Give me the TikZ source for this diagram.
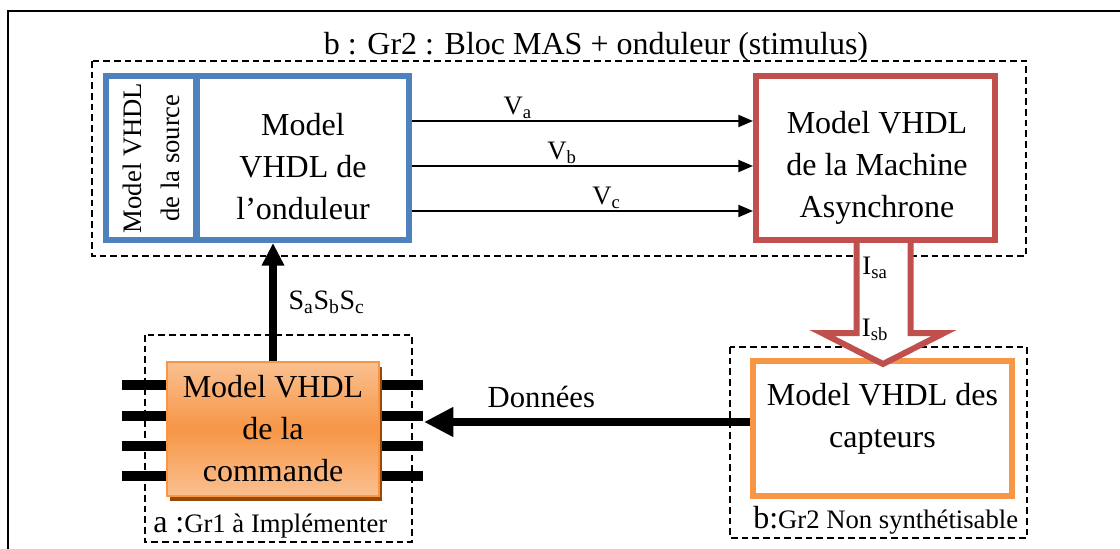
\documentclass[tikz,border=0pt]{standalone}
\usepackage{fontspec}
\setmainfont{Liberation Serif}
\usetikzlibrary{arrows.meta,shadows}

\definecolor{bleu}{RGB}{79,129,189}
\definecolor{rouge}{RGB}{192,80,77}
\definecolor{orangeB}{RGB}{247,150,70}
\definecolor{orangeclair}{RGB}{250,192,144}
\definecolor{brun}{RGB}{152,72,7}

\def\px{0.75pt}

\tikzset{
  grp/.style={draw, line width=1.2pt, dash pattern=on 5pt off 3pt},
  bloc/.style={draw, line width=4.5pt, inner sep=0pt, align=center,
    font=\fontsize{24}{31.5}\selectfont},
  bloctxt/.style={align=center, font=\fontsize{24}{31.5}\selectfont},
  fil/.style={-{Triangle[length=11pt,width=9pt]}, line width=1.5pt},
  gros/.style={-{Triangle[length=17pt,width=16pt]}, line width=5.5pt},
  pinline/.style={line width=7.5pt},
  lab/.style={font=\fontsize{20}{22}\selectfont, inner sep=1pt}
}

\begin{document}
\begin{tikzpicture}[x=0.75pt,y=-0.75pt]
\useasboundingbox (0,0) rectangle (1120,549);

% cadre
\draw[line width=1.5pt] (8,549) -- (8,11) -- (1120,11);

% groupes en pointilles
\draw[grp] (92,61) rectangle (1026,256);
\draw[grp] (145,335) rectangle (412,542);
\draw[grp] (730,347) rectangle (1027,538);

\node[font=\fontsize{24}{28}\selectfont, anchor=base] (titre) at (596,55)
  {b : Gr2 : Bloc MAS + onduleur (stimulus)};

% bloc source + onduleur
\node[bloc, draw=bleu, rotate=90, minimum width=164*\px, minimum height=90*\px,
  font=\fontsize{20}{28.5}\selectfont] (src) at (151,158) {Model VHDL\\de la source};
\node[bloc, draw=bleu, minimum width=212*\px, minimum height=164*\px] (ond) at (303,158) {};
\node[bloctxt] (ondtxt) at (303,167) {Model\\VHDL de\\l’onduleur};

% machine asynchrone
\node[bloc, draw=rouge, minimum width=239*\px, minimum height=164*\px] (mas) at (875.5,158) {};
\node[bloctxt] (mastxt) at (877,168) {Model VHDL\\de la Machine\\Asynchrone};

\draw[fil] (ond.east |- 0,121) -- node[pos=0.31, above, lab] {V\textsubscript{a}} (mas.west |- 0,121);
\draw[fil] (ond.east |- 0,166) -- node[pos=0.44, above, lab] {V\textsubscript{b}} (mas.west |- 0,166);
\draw[fil] (ond.east |- 0,211) -- node[pos=0.57, above, lab] {V\textsubscript{c}} (mas.west |- 0,211);

% capteurs
\node[bloc, draw=orangeB, minimum width=259*\px, minimum height=135*\px] (capt) at (882.5,428.5) {};
\node[bloctxt] (capttxt) at (882.5,419) {Model VHDL des\\capteurs};

% fleche creuse Isa Isb
\draw[rouge, line width=4.5pt, fill=white, line join=miter]
  ([xshift=-19*\px]mas.south) -- ++(0,90) -- ++(-34.5,0) -- ++(61,31)
  -- ++(61,-31) -- ++(-33.5,0) -- ++(0,-90);
\node[lab] (isa) at (875,268) {I\textsubscript{sa}};
\node[lab] (isb) at (875,330) {I\textsubscript{sb}};

% commande
\foreach \y in {385,416,446,476} {
  \draw[pinline] (273,\y) ++(-106,0) -- ++(-45,0);
  \draw[pinline] (273,\y) ++(106,0) -- ++(44,0);
}
\node[bloc, draw=orangeB, line width=1.5pt, top color=orangeclair, bottom color=orangeclair,
  middle color=orangeB, minimum width=212*\px, minimum height=134*\px,
  drop shadow={shadow xshift=2pt, shadow yshift=-3.5pt, fill=brun, opacity=1}]
  (cmd) at (273,429) {Model VHDL\\de la\\commande};
\path ([xshift=44*\px]cmd.east) coordinate (pinR);

\draw[gros] (cmd.north) -- node[right=8pt, lab, font=\fontsize{21}{22}\selectfont]
  {S\textsubscript{a}S\textsubscript{b}S\textsubscript{c}} (cmd.north |- ond.south);
\draw[gros, line width=6pt, -{Triangle[length=22pt,width=21pt]}]
  (capt.west |- 0,422) -- node[pos=0.64, above=4pt, font=\fontsize{23}{26}\selectfont]
  {Données} (pinR |- 0,422);

% etiquettes des groupes
\node[anchor=base west, inner sep=0pt, font=\fontsize{20}{22}\selectfont] (ga) at (153,532)
  {{\fontsize{24}{26}\selectfont a :}Gr1 à Implémenter};
\node[anchor=base west, inner sep=0pt, font=\fontsize{20}{22}\selectfont] (gb) at (753,528)
  {{\fontsize{24}{26}\selectfont b:}Gr2 Non synthétisable};
\end{tikzpicture}
\end{document}
